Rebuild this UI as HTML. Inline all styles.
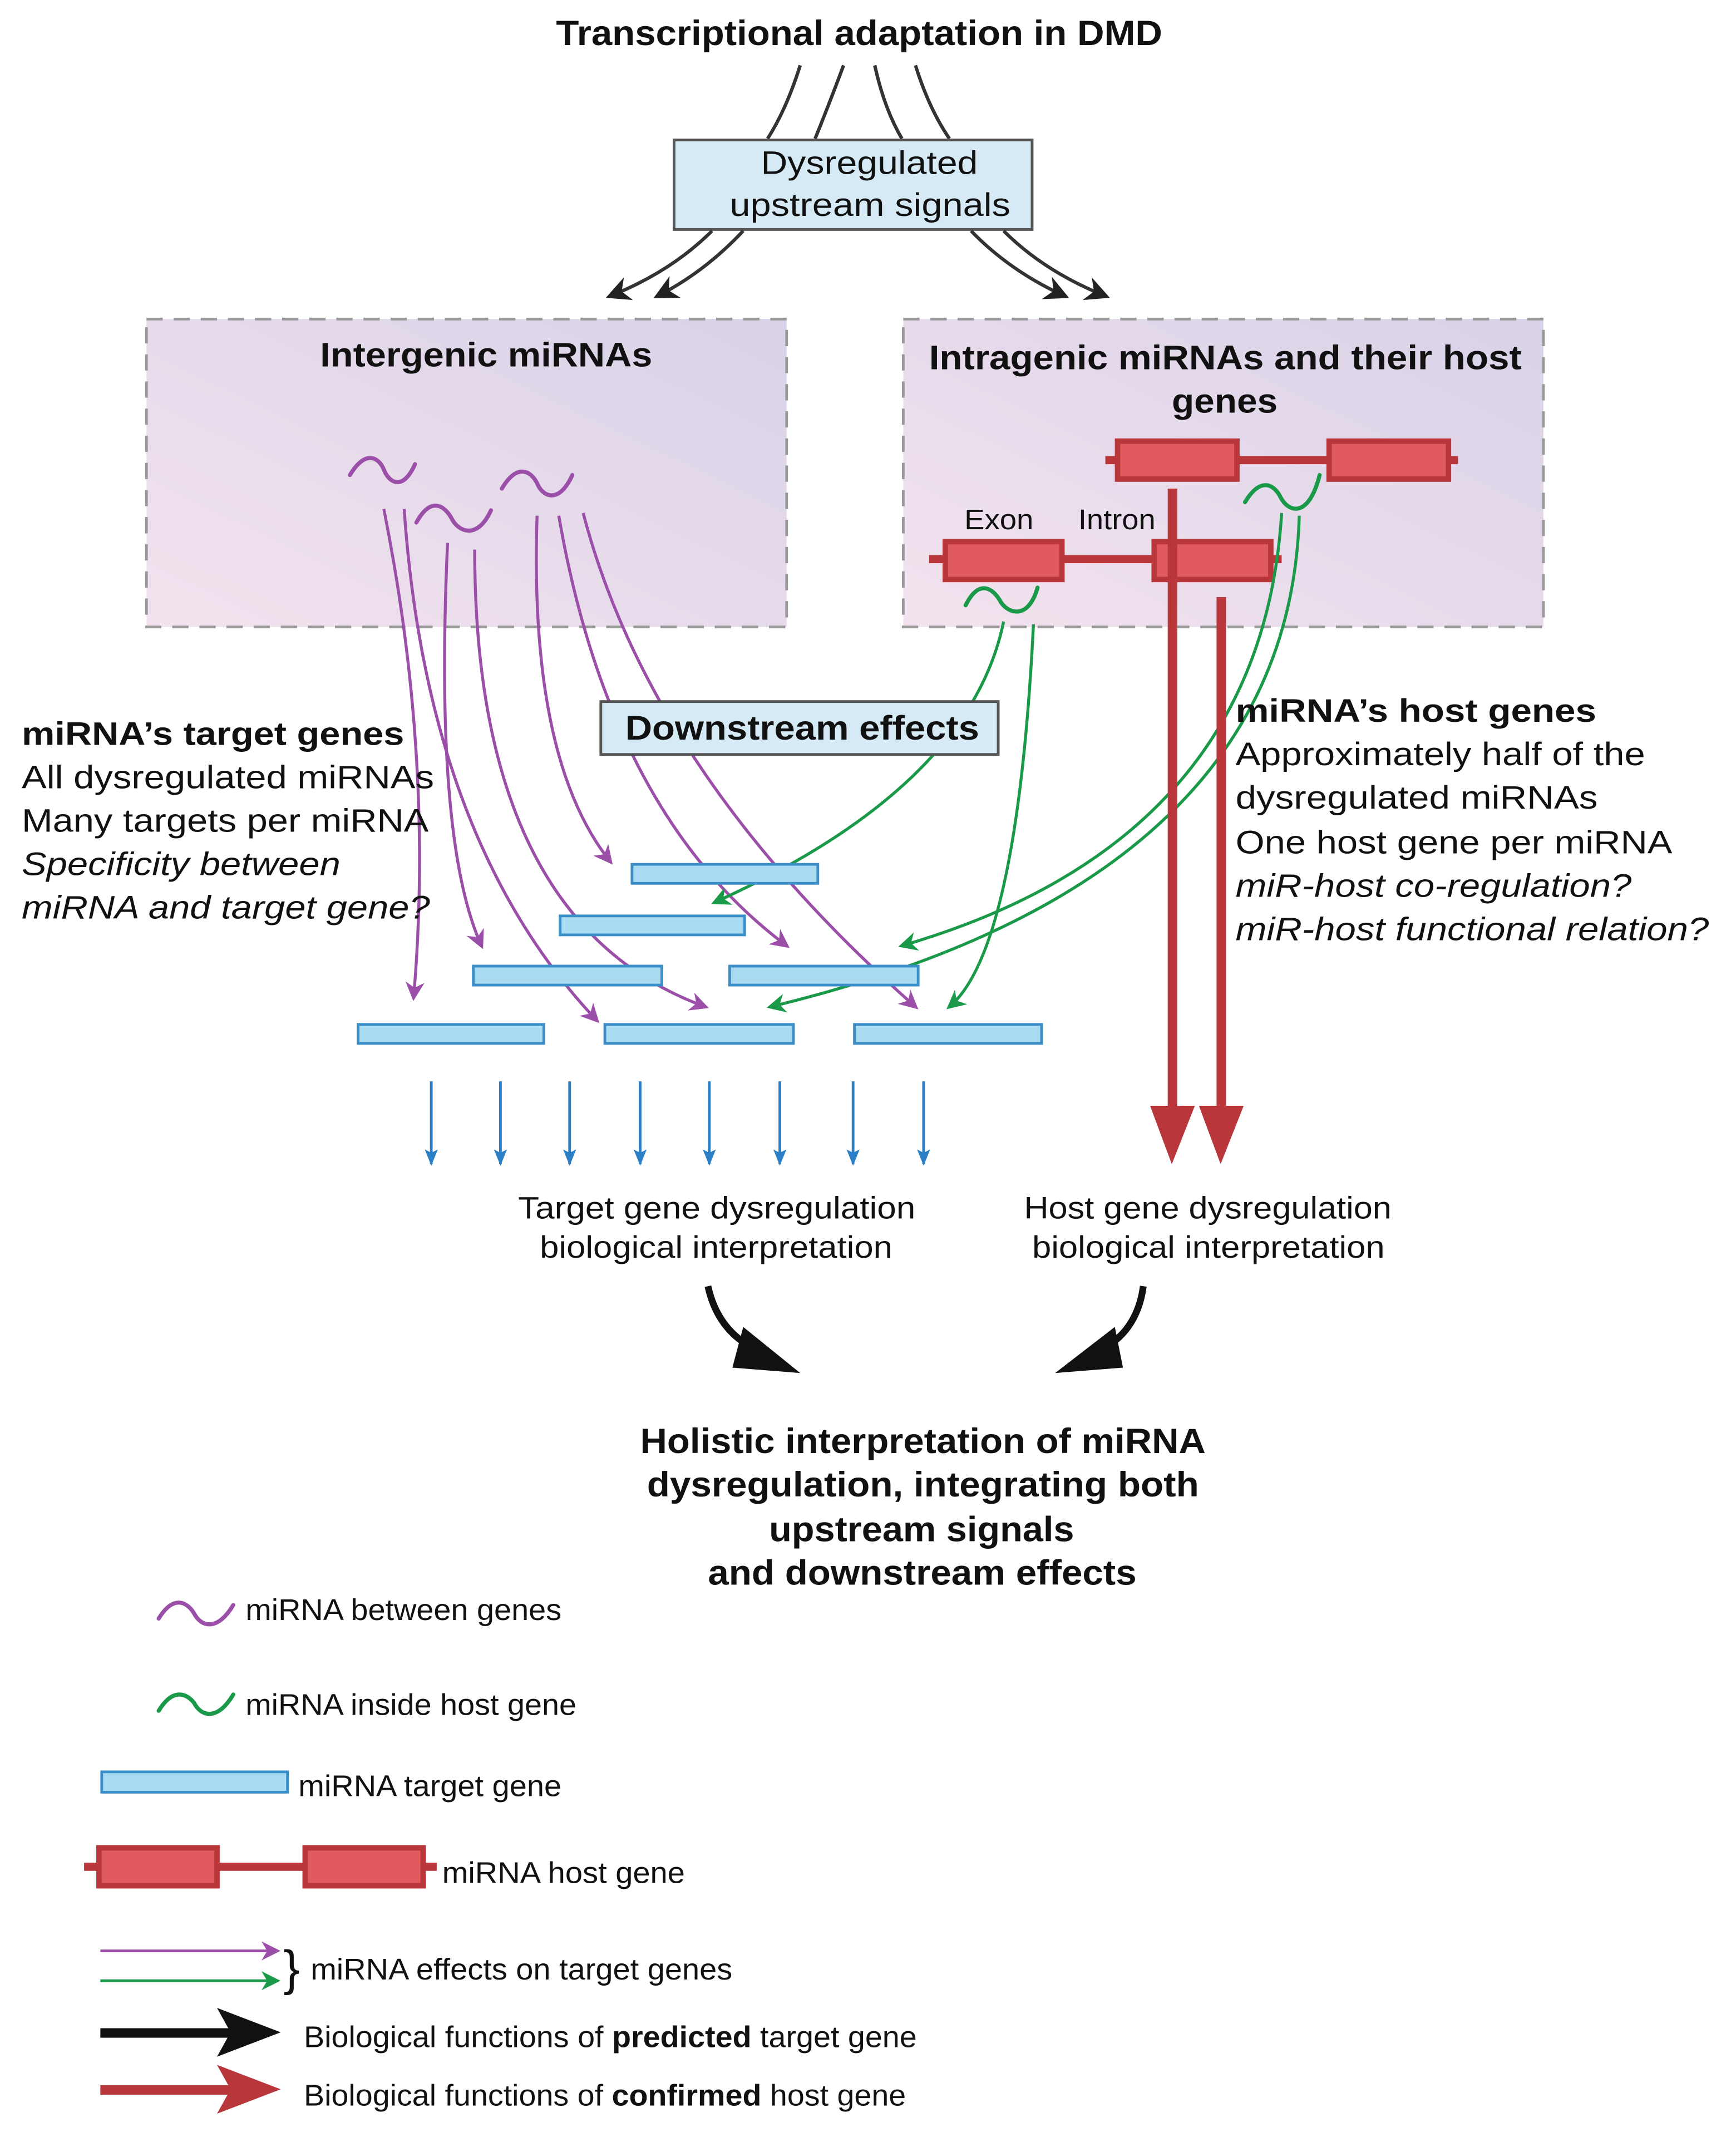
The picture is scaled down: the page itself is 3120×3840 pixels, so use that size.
<!DOCTYPE html>
<html><head><meta charset="utf-8"><style>
html,body{margin:0;padding:0;background:#fff}
svg{display:block}
text{font-family:"Liberation Sans",sans-serif;fill:#111}
</style></head><body>
<svg width="3120" height="3840" viewBox="0 0 1280 1575" xmlns="http://www.w3.org/2000/svg">
<defs>
<linearGradient id="bg" x1="0" y1="1" x2="1" y2="0">
<stop offset="0" stop-color="#f3e3ee"/><stop offset="1" stop-color="#d9d2e8"/></linearGradient>
<marker id="pa" viewBox="0 0 10 10" refX="8" refY="5" markerWidth="14" markerHeight="14" orient="auto" markerUnits="userSpaceOnUse"><path d="M0,0 L10,5 L0,10 L3,5 Z" fill="#9b4fa8"/></marker>
<marker id="ga" viewBox="0 0 10 10" refX="8" refY="5" markerWidth="14" markerHeight="14" orient="auto" markerUnits="userSpaceOnUse"><path d="M0,0 L10,5 L0,10 L3,5 Z" fill="#1a9a48"/></marker>
<marker id="ka" viewBox="0 0 10 10" refX="8" refY="5" markerWidth="18" markerHeight="18" orient="auto" markerUnits="userSpaceOnUse"><path d="M0,0 L10,5 L0,10 L3,5 Z" fill="#222"/></marker>
<marker id="ba" viewBox="0 0 10 10" refX="9" refY="5" markerWidth="12" markerHeight="12" orient="auto" markerUnits="userSpaceOnUse"><path d="M0,1 L10,5 L0,9 L2,5 Z" fill="#2a7fc6"/></marker>
</defs>

<text x="410" y="33" font-size="26" font-weight="bold" textLength="447" lengthAdjust="spacingAndGlyphs">Transcriptional adaptation in DMD</text>
<g stroke="#333" stroke-width="2.5" fill="none">
<path d="M590,48 Q580,80 566,102"/><path d="M622,48 Q610,80 601,102"/>
<path d="M645,48 Q652,80 665,102"/><path d="M675,48 Q685,80 700,102"/>
</g>
<rect x="497" y="103" width="264" height="66" fill="#d5eaf4" stroke="#555" stroke-width="2"/>
<text x="561" y="128" font-size="24" textLength="160" lengthAdjust="spacingAndGlyphs">Dysregulated</text>
<text x="538" y="159" font-size="24" textLength="207" lengthAdjust="spacingAndGlyphs">upstream signals</text>
<g stroke="#333" stroke-width="2.5" fill="none" marker-end="url(#ka)">
<path d="M525,170 Q495,200 450,218"/><path d="M548,170 Q520,200 485,218"/>
<path d="M716,170 Q745,200 785,218"/><path d="M740,170 Q770,200 815,218"/>
</g>

<rect x="108" y="235" width="472" height="227" fill="url(#bg)" stroke="#999" stroke-width="2" stroke-dasharray="12,8"/>
<rect x="666" y="235" width="472" height="227" fill="url(#bg)" stroke="#999" stroke-width="2" stroke-dasharray="12,8"/>
<text x="236" y="270" font-size="25" font-weight="bold" textLength="245" lengthAdjust="spacingAndGlyphs">Intergenic miRNAs</text>
<text x="685" y="272" font-size="25" font-weight="bold" textLength="437" lengthAdjust="spacingAndGlyphs">Intragenic miRNAs and their host</text>
<text x="864" y="304" font-size="25" font-weight="bold" textLength="78" lengthAdjust="spacingAndGlyphs">genes</text>

<g fill="#e05a5e" stroke="#b9363a" stroke-width="4">
<line x1="815" y1="339" x2="1075" y2="339" stroke-width="6"/>
<rect x="824" y="325" width="88" height="28"/><rect x="980" y="325" width="88" height="28"/>
<line x1="685" y1="412" x2="945" y2="412" stroke-width="6"/>
<rect x="697" y="399" width="86" height="28"/><rect x="851" y="399" width="86" height="28"/>
</g>
<text x="711" y="390" font-size="21" textLength="51" lengthAdjust="spacingAndGlyphs">Exon</text>
<text x="795" y="390" font-size="21" textLength="57" lengthAdjust="spacingAndGlyphs">Intron</text>

<g fill="none" stroke-width="3" stroke-linecap="round">
<path d="M258,350 C270,330 280,338 283,346 C287,356 297,362 306,342" stroke="#9b4fa8"/>
<path d="M307,385 C318,365 328,373 333,382 C338,392 352,398 362,376" stroke="#9b4fa8"/>
<path d="M370,360 C382,340 392,348 396,356 C400,366 412,372 422,350" stroke="#9b4fa8"/>
<path d="M918,370 C930,350 940,358 944,366 C950,378 965,382 973,350" stroke="#1a9a48"/>
<path d="M712,446 C722,426 732,434 737,442 C742,452 758,458 765,433" stroke="#1a9a48"/>
</g>

<g fill="none" stroke="#9b4fa8" stroke-width="2.2" marker-end="url(#pa)">
<path d="M283,375 Q320,560 305,735"/>
<path d="M298,375 Q315,620 440,752"/>
<path d="M330,400 Q320,620 355,697"/>
<path d="M350,405 Q350,680 520,742"/>
<path d="M396,380 Q390,560 450,635"/>
<path d="M412,380 Q450,600 580,697"/>
<path d="M430,378 Q480,570 675,742"/>
</g>
<g fill="none" stroke="#1a9a48" stroke-width="2.2" marker-end="url(#ga)">
<path d="M740,458 Q715,580 527,665"/>
<path d="M762,460 Q750,700 700,742"/>
<path d="M945,378 Q930,620 665,697"/>
<path d="M958,380 Q950,650 568,742"/>
</g>

<rect x="443" y="517" width="293" height="39" fill="#d5eaf4" stroke="#555" stroke-width="2"/>
<text x="461" y="545" font-size="25" font-weight="bold" textLength="261" lengthAdjust="spacingAndGlyphs">Downstream effects</text>

<g fill="#a9dbf3" stroke="#3a8fc9" stroke-width="2">
<rect x="466" y="637" width="137" height="14"/>
<rect x="413" y="675" width="136" height="14"/>
<rect x="349" y="712" width="139" height="14"/>
<rect x="538" y="712" width="139" height="14"/>
<rect x="264" y="755" width="137" height="14"/>
<rect x="446" y="755" width="139" height="14"/>
<rect x="630" y="755" width="138" height="14"/>
</g>

<g fill="#b9363a">
<rect x="861" y="360" width="7" height="460"/>
<rect x="897" y="440" width="7" height="380"/>
<path d="M848,815 L881,815 L864,858 Z"/>
<path d="M884,815 L917,815 L900,858 Z"/>
</g>

<g stroke="#2a7fc6" stroke-width="2" marker-end="url(#ba)">
<line x1="318" y1="797" x2="318" y2="858"/><line x1="369" y1="797" x2="369" y2="858"/>
<line x1="420" y1="797" x2="420" y2="858"/><line x1="472" y1="797" x2="472" y2="858"/>
<line x1="523" y1="797" x2="523" y2="858"/><line x1="575" y1="797" x2="575" y2="858"/>
<line x1="629" y1="797" x2="629" y2="858"/><line x1="681" y1="797" x2="681" y2="858"/>
</g>

<g font-size="24">
<text x="16" y="549" font-weight="bold" textLength="282" lengthAdjust="spacingAndGlyphs">miRNA’s target genes</text>
<text x="16" y="581" textLength="304" lengthAdjust="spacingAndGlyphs">All dysregulated miRNAs</text>
<text x="16" y="613" textLength="300" lengthAdjust="spacingAndGlyphs">Many targets per miRNA</text>
<text x="16" y="645" font-style="italic" textLength="235" lengthAdjust="spacingAndGlyphs">Specificity between</text>
<text x="16" y="677" font-style="italic" textLength="301" lengthAdjust="spacingAndGlyphs">miRNA and target gene?</text>
<text x="911" y="532" font-weight="bold" textLength="266" lengthAdjust="spacingAndGlyphs">miRNA’s host genes</text>
<text x="911" y="564" textLength="302" lengthAdjust="spacingAndGlyphs">Approximately half of the</text>
<text x="911" y="596" textLength="267" lengthAdjust="spacingAndGlyphs">dysregulated miRNAs</text>
<text x="911" y="629" textLength="322" lengthAdjust="spacingAndGlyphs">One host gene per miRNA</text>
<text x="911" y="661" font-style="italic" textLength="292" lengthAdjust="spacingAndGlyphs">miR-host co-regulation?</text>
<text x="911" y="693" font-style="italic" textLength="349" lengthAdjust="spacingAndGlyphs">miR-host functional relation?</text>
</g>
<g font-size="23">
<text x="382" y="898" textLength="293" lengthAdjust="spacingAndGlyphs">Target gene dysregulation</text>
<text x="398" y="927" textLength="260" lengthAdjust="spacingAndGlyphs">biological interpretation</text>
<text x="755" y="898" textLength="271" lengthAdjust="spacingAndGlyphs">Host gene dysregulation</text>
<text x="761" y="927" textLength="260" lengthAdjust="spacingAndGlyphs">biological interpretation</text>
</g>

<path d="M522,948 Q530,985 565,998" fill="none" stroke="#111" stroke-width="5"/>
<path d="M548,978 L590,1012 L540,1008 Z" fill="#111"/>
<path d="M843,948 Q838,985 805,998" fill="none" stroke="#111" stroke-width="5"/>
<path d="M822,978 L778,1012 L828,1008 Z" fill="#111"/>

<g font-size="26" font-weight="bold">
<text x="472" y="1071" textLength="417" lengthAdjust="spacingAndGlyphs">Holistic interpretation of miRNA</text>
<text x="477" y="1103" textLength="407" lengthAdjust="spacingAndGlyphs">dysregulation, integrating both</text>
<text x="567" y="1136" textLength="225" lengthAdjust="spacingAndGlyphs">upstream signals</text>
<text x="522" y="1168" textLength="316" lengthAdjust="spacingAndGlyphs">and downstream effects</text>
</g>

<g fill="none" stroke-width="3" stroke-linecap="round">
<path d="M117,1193 C128,1175 138,1181 143,1189 C148,1199 160,1203 172,1183" stroke="#9b4fa8"/>
<path d="M117,1261 C128,1243 138,1249 143,1255 C148,1265 160,1269 172,1249" stroke="#1a9a48"/>
</g>
<rect x="75" y="1306" width="137" height="15" fill="#a9dbf3" stroke="#3a8fc9" stroke-width="2"/>
<g fill="#e05a5e" stroke="#b9363a" stroke-width="4">
<line x1="62" y1="1376" x2="322" y2="1376" stroke-width="6"/>
<rect x="73" y="1362" width="87" height="28"/><rect x="225" y="1362" width="87" height="28"/>
</g>
<line x1="74" y1="1438" x2="204" y2="1438" stroke="#9b4fa8" stroke-width="2" marker-end="url(#pa)"/>
<line x1="74" y1="1460" x2="204" y2="1460" stroke="#1a9a48" stroke-width="2" marker-end="url(#ga)"/>
<text x="209" y="1463" font-size="36" font-family="Liberation Serif">}</text>
<rect x="74" y="1495" width="100" height="7" fill="#111"/>
<path d="M160,1480 L207,1498 L160,1516 L170,1498 Z" fill="#111"/>
<rect x="74" y="1537" width="100" height="7" fill="#b9363a"/>
<path d="M160,1522 L207,1540 L160,1558 L170,1540 Z" fill="#b9363a"/>
<g font-size="22">
<text x="181" y="1194" textLength="233" lengthAdjust="spacingAndGlyphs">miRNA between genes</text>
<text x="181" y="1264" textLength="244" lengthAdjust="spacingAndGlyphs">miRNA inside host gene</text>
<text x="220" y="1324" textLength="194" lengthAdjust="spacingAndGlyphs">miRNA target gene</text>
<text x="326" y="1388" textLength="179" lengthAdjust="spacingAndGlyphs">miRNA host gene</text>
<text x="229" y="1459" textLength="311" lengthAdjust="spacingAndGlyphs">miRNA effects on target genes</text>
<text x="224" y="1509" textLength="452" lengthAdjust="spacingAndGlyphs">Biological functions of <tspan font-weight="bold">predicted</tspan> target gene</text>
<text x="224" y="1552" textLength="444" lengthAdjust="spacingAndGlyphs">Biological functions of <tspan font-weight="bold">confirmed</tspan> host gene</text>
</g>
</svg>
</body></html>
